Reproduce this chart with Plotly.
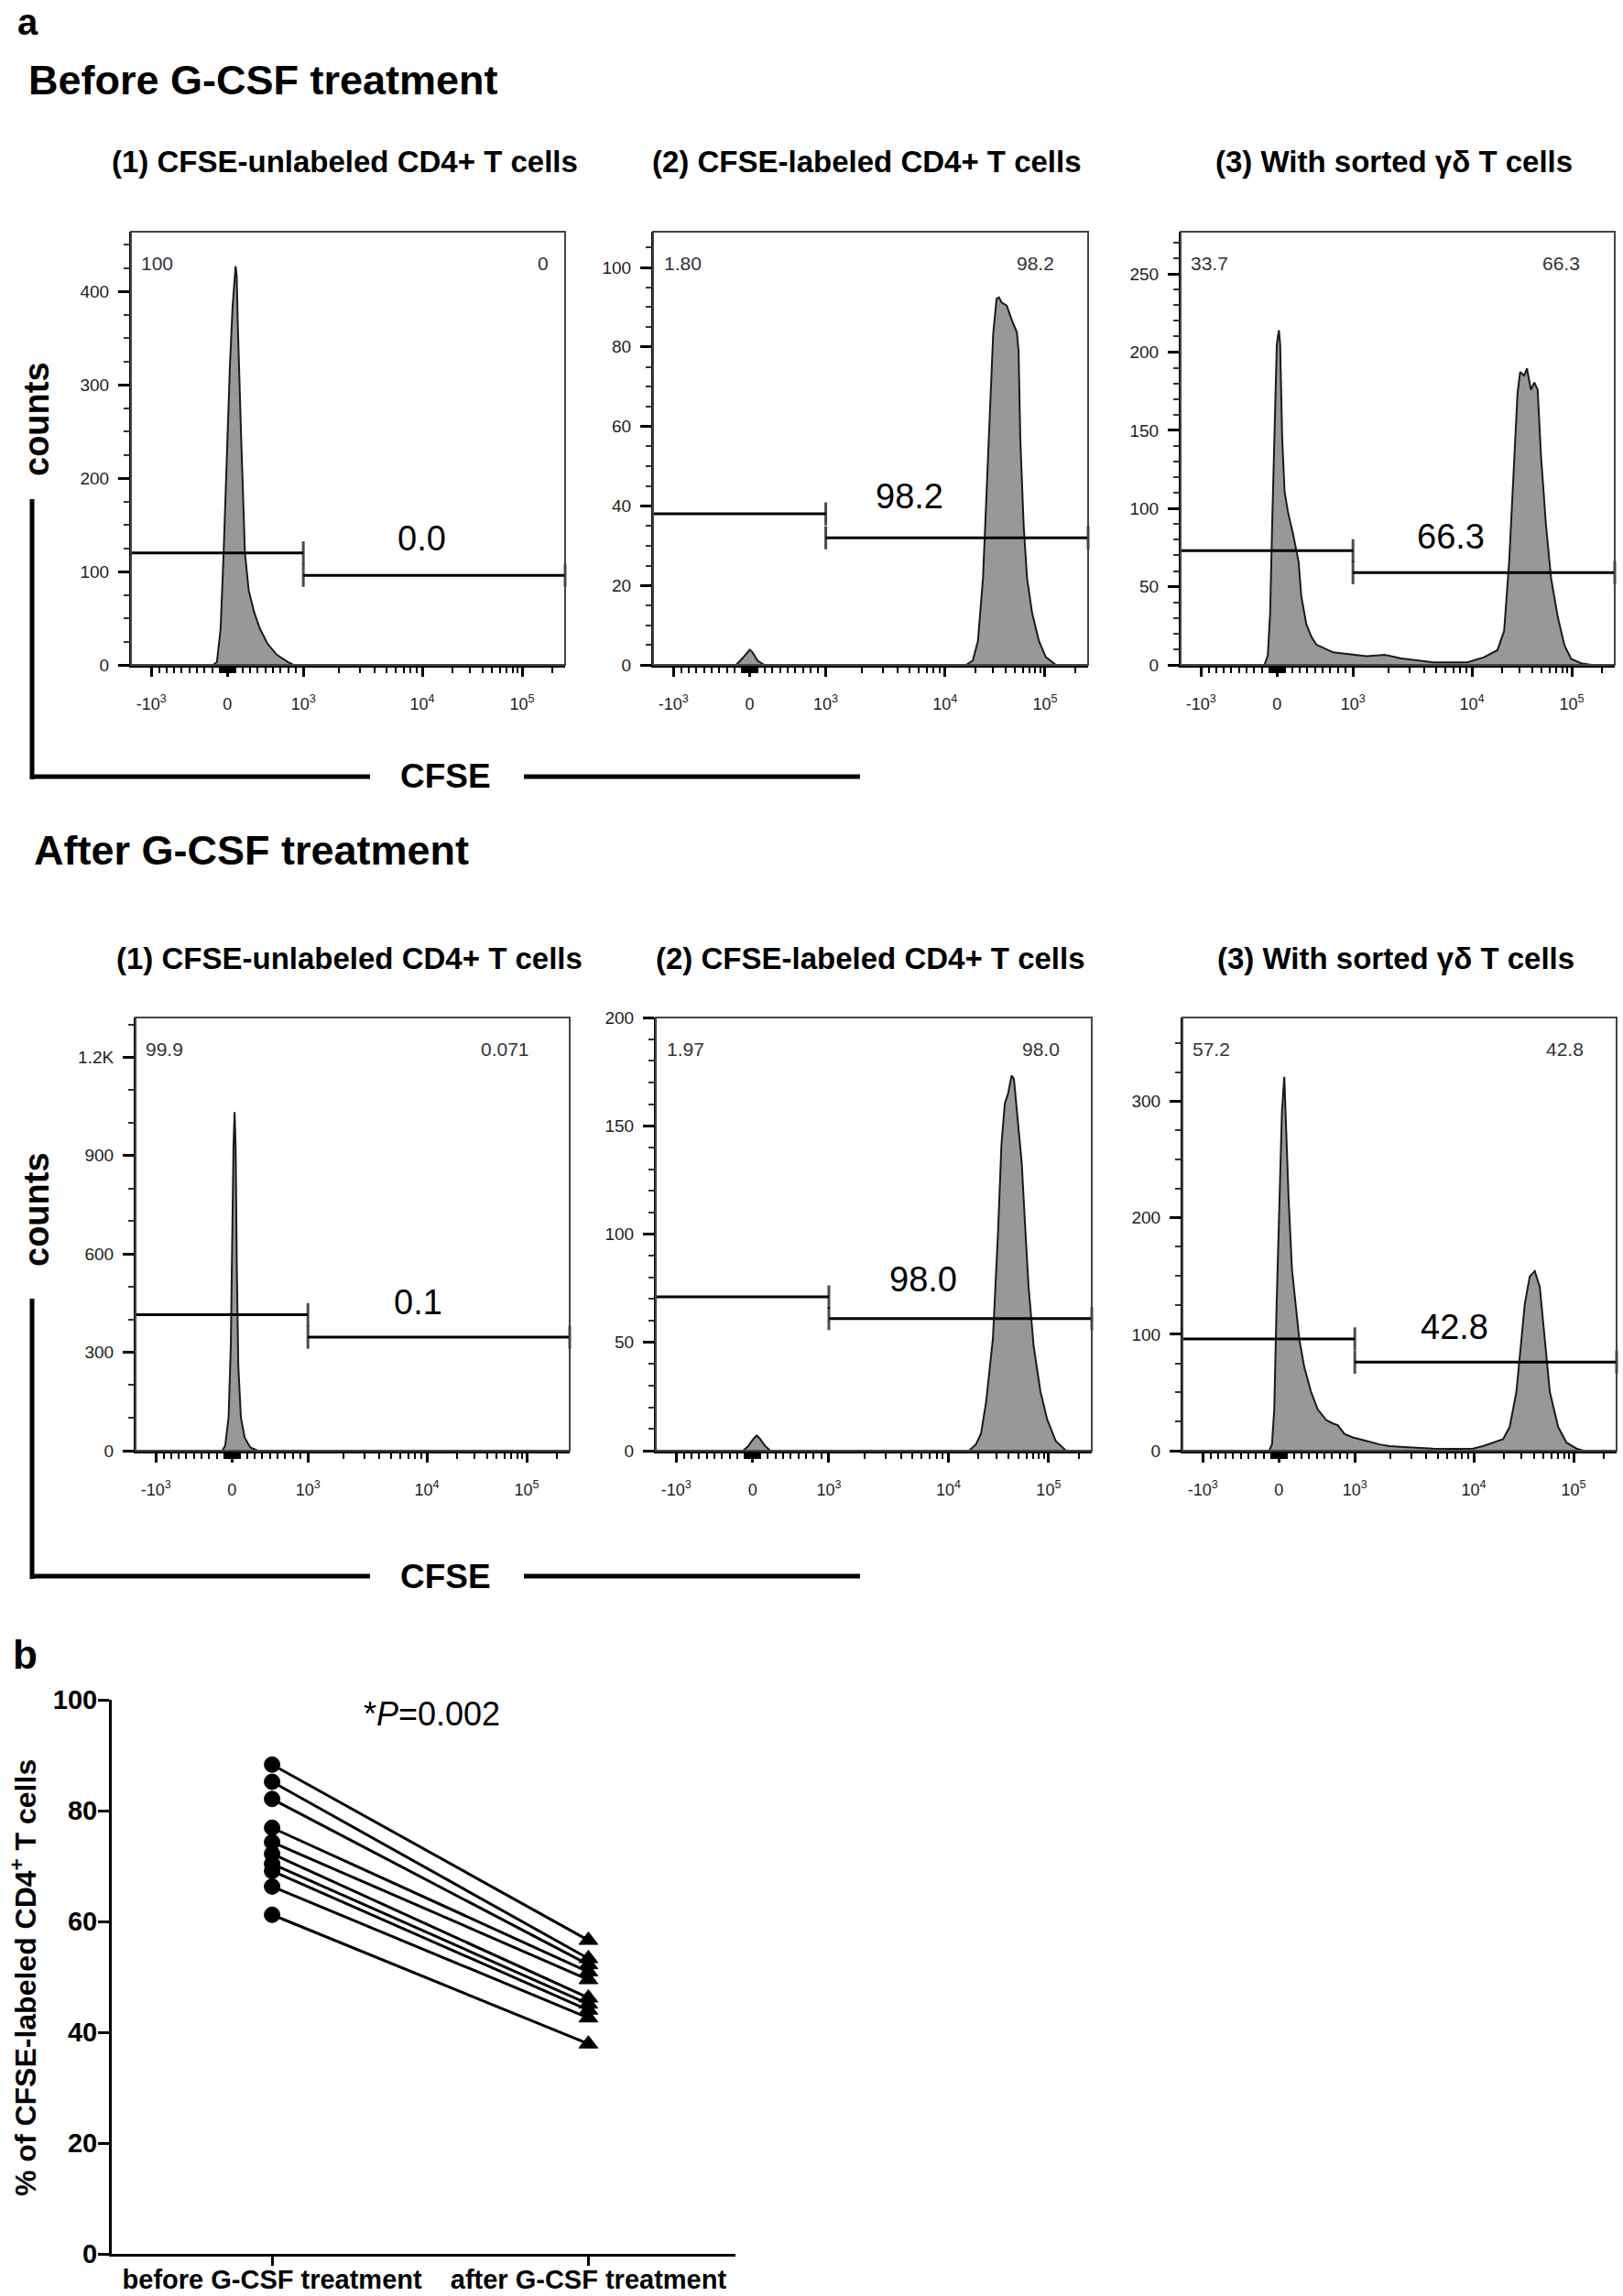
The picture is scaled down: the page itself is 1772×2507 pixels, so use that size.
import numpy as np
import plotly.graph_objects as go

FONT = "Arial, 'Liberation Sans', Helvetica, sans-serif"

# ---------------- panel a : data ----------------
row_titles = ["Before G-CSF treatment", "After G-CSF treatment"]
panel_titles = ["(1) CFSE-unlabeled CD4+ T cells",
                "(2) CFSE-labeled CD4+ T cells",
                "(3) With sorted γδ T cells"]

# CFSE axis ticks (biexponential display)
cfse_major = [-1000, 0, 1000, 10000, 100000]
cfse_major_text = ["-10<sup>3</sup>", "0", "10<sup>3</sup>", "10<sup>4</sup>", "10<sup>5</sup>"]
cfse_minor = ([-900, -800, -700, -600, -500, -400, -300, -200, -100,
               -90, -80, -70, -60, -50, -40, -30, -20, -10,
               10, 20, 30, 40, 50, 60, 70, 80, 90,
               100, 200, 300, 400, 500, 600, 700, 800, 900,
               2000, 3000, 4000, 5000, 6000, 7000, 8000, 9000,
               20000, 30000, 40000, 50000, 60000, 70000, 80000, 90000, 200000])
gate_split = 1000  # CFSE value separating the two gates

# histogram outlines: x = position on the biexponential display axis (0-1), y = counts
h1_x = [0.0, 0.189, 0.198, 0.2065, 0.2134, 0.222, 0.2281, 0.2341, 0.2384, 0.241, 0.2435, 0.2461,
        0.2539, 0.2625, 0.2711, 0.284, 0.2969, 0.3141, 0.3356, 0.3614, 0.3744, 1.0]
h1_y = [0, 0, 3, 39, 120, 242, 323, 384, 417, 427, 417, 364, 242, 120, 80, 56, 39, 23, 11, 3, 0, 0]

h2_x = [0.0, 0.191, 0.205, 0.2167, 0.2221, 0.2284, 0.240, 0.2557,
        0.7194, 0.735, 0.7467, 0.7584, 0.7701, 0.7818, 0.7896, 0.795, 0.8012, 0.8129, 0.8246,
        0.8363, 0.8402, 0.8441, 0.8519, 0.8597, 0.8714, 0.887, 0.9026, 0.926, 1.0]
h2_y = [0, 0, 1.6, 3.2, 3.8, 3.2, 1.1, 0,
        0, 1.1, 6.0, 21.8, 52.5, 83.3, 92.1, 92.5, 91.2, 90.4, 86.8,
        83.7, 78.9, 56.9, 35.1, 21.8, 13.0, 6.0, 2.0, 0, 0]

h3_x = [0.0, 0.1931, 0.2008, 0.2062, 0.2108, 0.2162, 0.2216, 0.2263, 0.2293, 0.234, 0.2394, 0.2471,
        0.2587, 0.2718, 0.278, 0.2896, 0.3012, 0.3127, 0.3514, 0.4286, 0.47, 0.5058, 0.583, 0.6602,
        0.6988, 0.7297, 0.7452, 0.7568, 0.7683, 0.7761, 0.7822, 0.7915, 0.7977, 0.8069, 0.8147,
        0.8224, 0.8301, 0.8417, 0.8533, 0.8687, 0.8842, 0.8996, 0.9228, 0.9459, 1.0]
h3_y = [0, 0, 6, 33, 89, 156, 205, 214, 205, 145, 111, 98,
        84, 66, 44, 26, 18, 13, 8, 5.6, 6.5, 4.3, 1.6, 1.6,
        4.9, 9.4, 21.7, 66, 133.6, 173.9, 187.3, 185, 189.6, 176, 180.6,
        176, 133.6, 89, 55.6, 30.7, 12.5, 3.8, 1, 0, 0]

h4_x = [0.0, 0.1997, 0.2065, 0.2143, 0.2194, 0.2229, 0.2255, 0.2281, 0.2306, 0.2332, 0.2367,
        0.2427, 0.2513, 0.2642, 0.2814, 1.0]
h4_y = [0, 0, 15.7, 101.9, 319.6, 682.9, 924.5, 1032.9, 924.5, 561.2, 257.9, 100.7, 40, 9.7, 0, 0]

h5_x = [0.0, 0.2003, 0.212, 0.2237, 0.2315, 0.2393, 0.251, 0.2627,
        0.7186, 0.7342, 0.7459, 0.7576, 0.7732, 0.7849, 0.7927, 0.8005, 0.8083, 0.8161, 0.8215,
        0.8278, 0.8394, 0.8472, 0.855, 0.8667, 0.8823, 0.8979, 0.9174, 0.9408, 1.0]
h5_y = [0, 0, 2.1, 5.4, 7.0, 5.4, 2.1, 0,
        0, 2.9, 7.8, 22.4, 51.6, 100.3, 140.8, 160.3, 165.1, 173.2, 171.6,
        157.0, 132.7, 103.5, 75.9, 48.3, 27.3, 14.3, 4.5, 0, 0]

h6_x = [0.0, 0.2, 0.2062, 0.2115, 0.2169, 0.2231, 0.2292, 0.2346, 0.2385, 0.2446, 0.2523, 0.2615,
        0.2692, 0.2808, 0.2962, 0.3115, 0.3308, 0.3462, 0.3577, 0.3731, 0.3923, 0.4231, 0.4538,
        0.4769, 0.5231, 0.5462, 0.5769, 0.6231, 0.6692, 0.6923, 0.7154, 0.7385, 0.7538, 0.7692,
        0.7808, 0.7885, 0.8, 0.8115, 0.8231, 0.8346, 0.8462, 0.8654, 0.8846, 0.9077, 0.9231, 1.0]
h6_y = [0, 0, 5.4, 35.5, 125.7, 215.8, 291, 321, 276, 215.8, 155.7, 125.7,
        95.6, 71.5, 50.5, 35.5, 26.5, 23.4, 21.9, 14.4, 11.4, 8.4, 5.4,
        3.9, 3.0, 2.4, 1.8, 1.5, 1.8, 3.9, 6.9, 9.9, 20.4, 50.5,
        95.6, 125.7, 149.7, 154.2, 140.7, 95.6, 50.5, 20.4, 6.9, 1.8, 0, 0]

hist_x = [h1_x, h2_x, h3_x, h4_x, h5_x, h6_x]
hist_y = [h1_y, h2_y, h3_y, h4_y, h5_y, h6_y]

y_max = [464, 109, 277, 1321, 200, 372]
y_tickvals = [[0, 100, 200, 300, 400], [0, 20, 40, 60, 80, 100], [0, 50, 100, 150, 200, 250],
              [0, 300, 600, 900, 1200], [0, 50, 100, 150, 200], [0, 100, 200, 300]]
y_ticktext = [["0", "100", "200", "300", "400"], ["0", "20", "40", "60", "80", "100"],
              ["0", "50", "100", "150", "200", "250"], ["0", "300", "600", "900", "1.2K"],
              ["0", "50", "100", "150", "200"], ["0", "100", "200", "300"]]
y_minor = [25, 5, 10, 100, 10, 25]

gate_left_y = [120, 38, 73, 415, 71, 96]
gate_right_y = [96, 32, 59, 346, 61, 76]
gate_label = ["0.0", "98.2", "66.3", "0.1", "98.0", "42.8"]
gate_label_x = [0.669, 0.589, 0.622, 0.651, 0.613, 0.627]
gate_label_y = [135, 42.4, 82, 452, 79, 106]
corner_left = ["100", "1.80", "33.7", "99.9", "1.97", "57.2"]
corner_right = ["0", "98.2", "66.3", "0.071", "98.0", "42.8"]

# ---------------- panel b : data ----------------
b_categories = ["before G-CSF treatment", "after G-CSF treatment"]
b_before = [88.3, 85.2, 82.1, 76.9, 74.3, 72.2, 70.4, 69.1, 66.3, 61.2]
b_after = [56.6, 53.3, 52.2, 50.9, 49.5, 46.2, 45.1, 44.0, 42.6, 37.9]
b_yticks = [0, 20, 40, 60, 80, 100]

# ---------------- layout helpers ----------------
W, H = 1772, 2507


def PX(x):
    return min(1.0, max(0.0, x / W))


def PY(y):
    return min(1.0, max(0.0, 1 - y / H))


def biex(v):
    v = np.asarray(v, dtype=float)
    lin = 0.222 + v * 0.000175
    lg = np.interp(np.log10(np.maximum(v, 1.0)), [3, 4, 5, 6], [0.397, 0.671, 0.901, 1.131])
    return np.where(v <= 1000, lin, lg)


panel_px = [((143, 617), (253, 726)), ((713, 1188), (253, 726)), ((1289, 1763), (253, 726)),
            ((148, 622), (1111, 1584)), ((716, 1192), (1111, 1584)), ((1291, 1765), (1111, 1584))]
corner_right_pos = [0.966, 0.926, 0.924, 0.911, 0.931, 0.928]

fig = go.Figure()
layout = dict(template="none", width=W, height=H, margin=dict(l=0, r=0, t=0, b=0),
              paper_bgcolor="white", plot_bgcolor="white", showlegend=False,
              font=dict(family=FONT, color="black"))
annotations = []
shapes = []

major_pos = biex(cfse_major).tolist()
minor_pos = [p for p in biex(cfse_minor).tolist() if 0 <= p <= 1]
split = float(biex(gate_split))

for i in range(6):
    sfx = "" if i == 0 else str(i + 1)
    xa, ya = "x" + sfx, "y" + sfx
    (x0, x1), (y0, y1) = panel_px[i]
    layout["xaxis" + sfx] = dict(
        domain=[PX(x0), PX(x1)], range=[0, 1], anchor=ya, tickmode="array",
        tickvals=major_pos, ticktext=cfse_major_text, ticks="outside", ticklen=10, tickwidth=3,
        tickcolor="black", showline=True, linewidth=3, linecolor="black", showgrid=False,
        zeroline=False, ticklabelstandoff=14,
        tickfont=dict(size=18, color="#222", family=FONT),
        minor=dict(tickmode="array", tickvals=minor_pos, ticks="outside", ticklen=6,
                   tickwidth=2, tickcolor="black", showgrid=False))
    layout["yaxis" + sfx] = dict(
        domain=[PY(y1), PY(y0)], range=[0, y_max[i]], anchor=xa, tickmode="array",
        tickvals=y_tickvals[i], ticktext=y_ticktext[i], ticks="outside", ticklen=12, tickwidth=3,
        tickcolor="black", showline=True, linewidth=2, linecolor="black", showgrid=False,
        zeroline=False, ticklabelstandoff=6,
        tickfont=dict(size=19, color="#222", family=FONT),
        minor=dict(dtick=y_minor[i], tick0=0, ticks="outside", ticklen=6, tickwidth=1.5,
                   tickcolor="#333", showgrid=False))
    # histogram
    fig.add_trace(go.Scatter(x=hist_x[i], y=hist_y[i], mode="lines", fill="tozeroy",
                             fillcolor="rgb(152,152,152)", line=dict(color="#1a1a1a", width=2),
                             xaxis=xa, yaxis=ya, hoverinfo="skip"))
    # gates
    fig.add_trace(go.Scatter(x=[0, split], y=[gate_left_y[i]] * 2, mode="lines+markers",
                             line=dict(color="black", width=3), cliponaxis=False,
                             marker=dict(symbol="line-ns", size=[0, 18], color="black",
                                         line=dict(width=3, color="black")),
                             xaxis=xa, yaxis=ya, hoverinfo="skip"))
    fig.add_trace(go.Scatter(x=[split, 1], y=[gate_right_y[i]] * 2, mode="lines+markers",
                             line=dict(color="black", width=3), cliponaxis=False,
                             marker=dict(symbol="line-ns", size=[18, 18], color="black",
                                         line=dict(width=3, color="black")),
                             xaxis=xa, yaxis=ya, hoverinfo="skip"))
    # frame
    shapes.append(dict(type="rect", xref=xa + " domain", yref=ya + " domain",
                       x0=0, x1=1, y0=0, y1=1, line=dict(color="#444", width=2), layer="above"))
    # texts
    annotations.append(dict(text=gate_label[i], xref=xa, yref=ya, x=gate_label_x[i],
                            y=gate_label_y[i], xanchor="center", yanchor="middle",
                            showarrow=False, font=dict(size=38, color="black", family=FONT)))
    cy = 1 - 34 / 473
    annotations.append(dict(text=corner_left[i], xref=xa + " domain", yref=ya + " domain",
                            x=0.02, y=cy, xanchor="left", yanchor="middle", showarrow=False,
                            font=dict(size=21, color="#333", family=FONT)))
    annotations.append(dict(text=corner_right[i], xref=xa + " domain", yref=ya + " domain",
                            x=corner_right_pos[i], y=cy, xanchor="right", yanchor="middle",
                            showarrow=False, font=dict(size=21, color="#333", family=FONT)))
    # panel subtitles
    sub_y = 176 if i < 3 else 1046
    annotations.append(dict(text=panel_titles[i % 3], xref="paper", yref="paper",
                            x=PX((x0 + x1) / 2 - 4), y=PY(sub_y), xanchor="center",
                            yanchor="middle", showarrow=False,
                            font=dict(size=33, color="black", family=FONT, weight="bold")))

# ---------------- panel b ----------------
for bv, av in zip(b_before, b_after):
    fig.add_trace(go.Scatter(x=[0, 1], y=[bv, av], mode="lines+markers",
                             line=dict(color="black", width=3),
                             marker=dict(symbol=["circle", "triangle-up"], size=[17, 18],
                                         color="black", opacity=1,
                                         line=dict(width=1, color="black")),
                             xaxis="x7", yaxis="y7", cliponaxis=False, hoverinfo="skip"))

layout["xaxis7"] = dict(domain=[PX(122), PX(803)], range=[-0.507, 1.465], anchor="y7",
                        tickmode="array", tickvals=[0, 1], ticktext=b_categories,
                        ticks="outside", ticklen=10, tickwidth=3, tickcolor="black",
                        showline=True, linewidth=3, linecolor="black", showgrid=False,
                        zeroline=False, ticklabelstandoff=-10,
                        tickfont=dict(size=29, family=FONT, color="black", weight="bold"))
layout["yaxis7"] = dict(domain=[PY(2461), PY(1856)], range=[0, 100], anchor="x7",
                        tickmode="array", tickvals=b_yticks, ticks="outside", ticklen=12,
                        tickwidth=3, tickcolor="black", showline=True, linewidth=3,
                        linecolor="black", showgrid=False, zeroline=False, ticklabelstandoff=-5,
                        tickfont=dict(size=29, family=FONT, color="black", weight="bold"))


def ann(text, X, Y, size, bold=True, xanchor="center", angle=0, yanchor="middle"):
    annotations.append(dict(text=text, xref="paper", yref="paper", x=PX(X), y=PY(Y),
                            xanchor=xanchor, yanchor=yanchor, showarrow=False, textangle=angle,
                            font=dict(size=size, color="black", family=FONT,
                                      weight="bold" if bold else "normal")))


ann("a", 17, 0, 40, xanchor="left", yanchor="top")
ann(row_titles[0], 29, 88, 45, xanchor="left")
ann(row_titles[1], 35, 928, 45, xanchor="left")
ann("counts", 40, 458, 38, angle=-90)
ann("counts", 40, 1321, 38, angle=-90)
ann("CFSE", 486, 848, 37)
ann("CFSE", 486, 1721, 37)
ann("b", 12, 1806, 44, xanchor="left")
ann("*<i>P</i>=0.002", 472, 1871, 36, bold=False)
ann("% of CFSE-labeled CD4<sup>+</sup> T cells", 26, 2160, 32, angle=-90)

for (yv0, yv1, yh) in [(545, 851, 848), (1418, 1724, 1721)]:
    shapes.append(dict(type="line", xref="paper", yref="paper", x0=PX(35), x1=PX(35),
                       y0=PY(yv0), y1=PY(yv1), line=dict(color="black", width=5)))
    shapes.append(dict(type="line", xref="paper", yref="paper", x0=PX(33), x1=PX(404),
                       y0=PY(yh), y1=PY(yh), line=dict(color="black", width=5)))
    shapes.append(dict(type="line", xref="paper", yref="paper", x0=PX(572), x1=PX(939),
                       y0=PY(yh), y1=PY(yh), line=dict(color="black", width=5)))

layout["annotations"] = annotations
layout["shapes"] = shapes
fig.update_layout(**layout)

# pin the figure to the page corner so that it fills the window exactly
PIN = ("document.body.style.margin='0px';document.body.style.padding='0px';"
       "document.documentElement.style.overflow='hidden';"
       "var gd=document.getElementById('{plot_id}');gd.style.position='absolute';"
       "gd.style.left='0px';gd.style.top='0px';")
fig.write_html("out.html", post_script=PIN, config={"displayModeBar": False})
